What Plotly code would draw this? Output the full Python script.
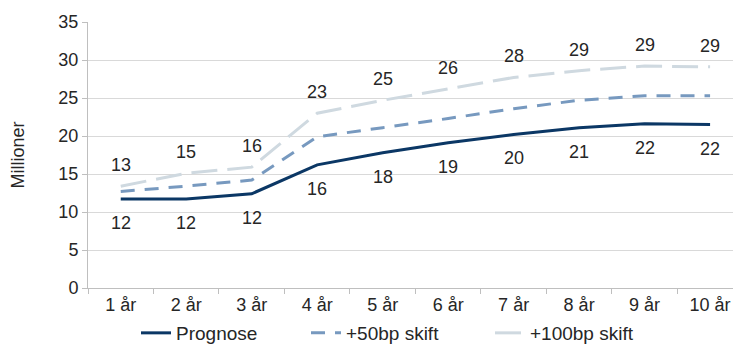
import plotly.graph_objects as go

categories = ["1 år", "2 år", "3 år", "4 år", "5 år", "6 år", "7 år", "8 år", "9 år", "10 år"]
prognose = [11.7, 11.7, 12.4, 16.2, 17.8, 19.1, 20.2, 21.1, 21.6, 21.5]
bp50 = [12.7, 13.4, 14.2, 19.9, 21.1, 22.3, 23.6, 24.7, 25.3, 25.3]
bp100 = [13.4, 15.1, 15.9, 23.0, 24.7, 26.2, 27.7, 28.6, 29.2, 29.1]
y_ticks = [0, 5, 10, 15, 20, 25, 30, 35]

FONT = "Liberation Sans, Arial, sans-serif"
TXT = "#262626"
PLOT_L, PLOT_W = 88, 645
PLOT_B, PLOT_H = 288, 266


def px_x(p):
    return (p - PLOT_L) / PLOT_W


def px_y(p):
    return (PLOT_B - p) / PLOT_H


fig = go.Figure()
fig.add_trace(go.Scatter(x=categories, y=prognose, mode="lines", name="Prognose",
                         line=dict(color="#0b3765", width=3), legend="legend"))
fig.add_trace(go.Scatter(x=categories, y=bp50, mode="lines", name="+50bp skift",
                         line=dict(color="#7799bf", width=3, dash="14px,10px"), legend="legend2"))
fig.add_trace(go.Scatter(x=categories, y=bp100, mode="lines", name="+100bp skift",
                         line=dict(color="#cfd9e0", width=3, dash="26px,10px"), legend="legend3"))

for c, v in zip(categories, prognose):
    fig.add_annotation(x=c, y=v, text=str(int(v + 0.5)), showarrow=False, yshift=-24,
                       font=dict(family=FONT, size=18, color=TXT))
for c, v in zip(categories, bp100):
    fig.add_annotation(x=c, y=v, text=str(int(v + 0.5)), showarrow=False, yshift=21,
                       font=dict(family=FONT, size=18, color=TXT))

leg_common = dict(orientation="h", xanchor="left", yanchor="middle", y=px_y(333),
                  font=dict(family=FONT, size=19, color=TXT), bgcolor="rgba(0,0,0,0)",
                  borderwidth=0)
fig.update_layout(
    width=733, height=345,
    margin=dict(l=PLOT_L, r=0, t=22, b=345 - PLOT_B, autoexpand=False),
    paper_bgcolor="white", plot_bgcolor="white",
    font=dict(family=FONT, size=18, color=TXT),
    showlegend=True,
    legend=dict(x=px_x(136), **leg_common),
    legend2=dict(x=px_x(306), **leg_common),
    legend3=dict(x=px_x(490), **leg_common),
)
fig.update_xaxes(type="category", range=[-0.5, 9.35], showgrid=False, automargin=False,
                 showline=True, linecolor="#bfbfbf", linewidth=1,
                 ticks="outside", tickson="boundaries", ticklen=5, tickcolor="#bfbfbf",
                 tickfont=dict(family=FONT, size=18, color=TXT))
fig.update_yaxes(range=[0, 35], tickvals=y_ticks, showgrid=True, gridcolor="#d9d9d9",
                 gridwidth=1, showline=True, linecolor="#bfbfbf", linewidth=1, automargin=False,
                 ticks="outside", ticklen=5, tickcolor="#bfbfbf", zeroline=False,
                 tickfont=dict(family=FONT, size=18, color=TXT),
                 title=dict(text="Millioner", font=dict(family=FONT, size=18, color=TXT),
                            standoff=29))

fig.write_html("out.html", config={"displayModeBar": False},
               post_script="document.body.style.margin='0';document.body.style.overflow='hidden';")
